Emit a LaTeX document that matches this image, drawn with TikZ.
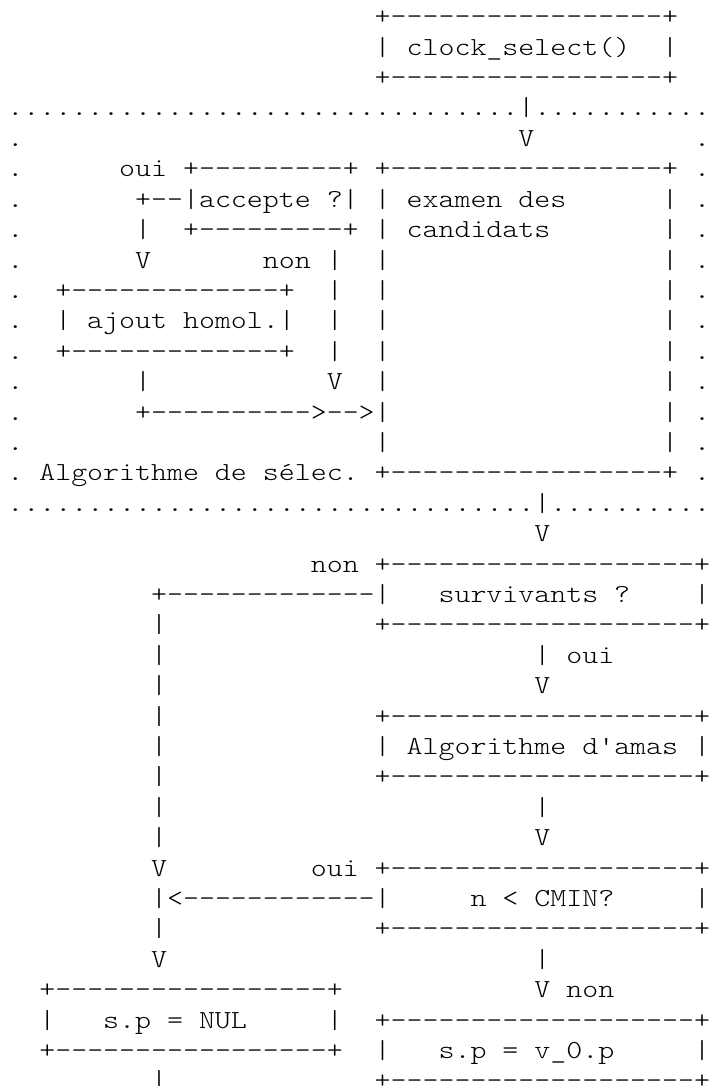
\documentclass[tikz,border=0pt]{standalone}
\usepackage{fontspec}
\setmonofont{lmmonolt10-regular}[Extension=.otf, FakeStretch=1.17]
\newdimen\cw
\cw=7.985pt
\newcommand\sk[1]{\hspace*{#1\cw}}
\newcommand\asciifont{\ttfamily\fontsize{13}{15}\selectfont\spaceskip\cw\relax\xspaceskip\cw\relax}
\ExplSyntaxOn
\cs_new:Npn \rep #1#2 { \prg_replicate:nn {#1} {#2} }
\ExplSyntaxOff
\begin{document}
\begin{tikzpicture}[x=7.985pt, y=15.2pt, ascii/.style={anchor=base west, inner sep=0pt, text=black, font=\asciifont}]
\useasboundingbox (-3.5pt,-545.8pt) rectangle (351pt,-2.8pt);
\clip (-3.5pt,-545.8pt) rectangle (351pt,-2.8pt);
\fill[white] (-3.5pt,-545.8pt) rectangle (351pt,-2.8pt);
\node[ascii] (clocktop) at (23,-1) {+\rep{17}{-}+};
\node[ascii] (clock) at (23,-2) {| clock\_select()\sk{2}|};
\node[ascii] (clockbot) at (23,-3) {+\rep{17}{-}+};
\node[ascii] (frametop) at (0,-4) {\rep{32}{.}|\rep{11}{.}};
\node[ascii] (framein) at (0,-5) {.\sk{31}V\sk{10}.};
\node[ascii] (acceptetop) at (0,-6) {.\sk{6}oui +\rep{9}{-}+ +\rep{17}{-}+ .};
\node[ascii] (accepte) at (0,-7) {.\sk{7}+--|accepte ?| | examen des\sk{6}| .};
\node[ascii] (acceptebot) at (0,-8) {.\sk{7}|\sk{2}+\rep{9}{-}+ | candidats\sk{7}| .};
\node[ascii] (nonbranch) at (0,-9) {.\sk{7}V\sk{7}non |\sk{2}|\sk{17}| .};
\node[ascii] (ajouttop) at (0,-10) {.\sk{2}+\rep{13}{-}+\sk{2}|\sk{2}|\sk{17}| .};
\node[ascii] (ajout) at (0,-11) {.\sk{2}| ajout homol.|\sk{2}|\sk{2}|\sk{17}| .};
\node[ascii] (ajoutbot) at (0,-12) {.\sk{2}+\rep{13}{-}+\sk{2}|\sk{2}|\sk{17}| .};
\node[ascii] (joinV) at (0,-13) {.\sk{7}|\sk{11}V\sk{2}|\sk{17}| .};
\node[ascii] (joinarrow) at (0,-14) {.\sk{7}+\rep{10}{-}>-->|\sk{17}| .};
\node[ascii] (frameside) at (0,-15) {.\sk{22}|\sk{17}| .};
\node[ascii] (framelabel) at (0,-16) {. Algorithme de sélec. +\rep{17}{-}+ .};
\node[ascii] (framebot) at (0,-17) {\rep{33}{.}|\rep{10}{.}};
\node[ascii] (survin) at (33,-18) {V};
\node[ascii] (survtop) at (19,-19) {non +\rep{19}{-}+};
\node[ascii] (surv) at (9,-20) {+\rep{13}{-}|\sk{3}survivants ?\sk{4}|};
\node[ascii] (survbot) at (9,-21) {|\sk{13}+\rep{19}{-}+};
\node[ascii] (ouibranch) at (9,-22) {|\sk{23}| oui};
\node[ascii] (amasin) at (9,-23) {|\sk{23}V};
\node[ascii] (amastop) at (9,-24) {|\sk{13}+\rep{19}{-}+};
\node[ascii] (amas) at (9,-25) {|\sk{13}| Algorithme d'amas |};
\node[ascii] (amasbot) at (9,-26) {|\sk{13}+\rep{19}{-}+};
\node[ascii] (amasout) at (9,-27) {|\sk{23}|};
\node[ascii] (cminin) at (9,-28) {|\sk{23}V};
\node[ascii] (cmintop) at (9,-29) {V\sk{9}oui +\rep{19}{-}+};
\node[ascii] (cmin) at (9,-30) {|<\rep{12}{-}|\sk{5}n < CMIN?\sk{5}|};
\node[ascii] (cminbot) at (9,-31) {|\sk{13}+\rep{19}{-}+};
\node[ascii] (nulin) at (9,-32) {V\sk{23}|};
\node[ascii] (nultop) at (2,-33) {+\rep{17}{-}+\sk{12}V non};
\node[ascii] (nul) at (2,-34) {|\sk{3}s.p = NUL\sk{5}|\sk{2}+\rep{19}{-}+};
\node[ascii] (nulbot) at (2,-35) {+\rep{17}{-}+\sk{2}|\sk{3}s.p = v\_0.p\sk{5}|};
\node[ascii] (nulout) at (9,-36) {|\sk{13}+\rep{19}{-}+};
\end{tikzpicture}
\end{document}
